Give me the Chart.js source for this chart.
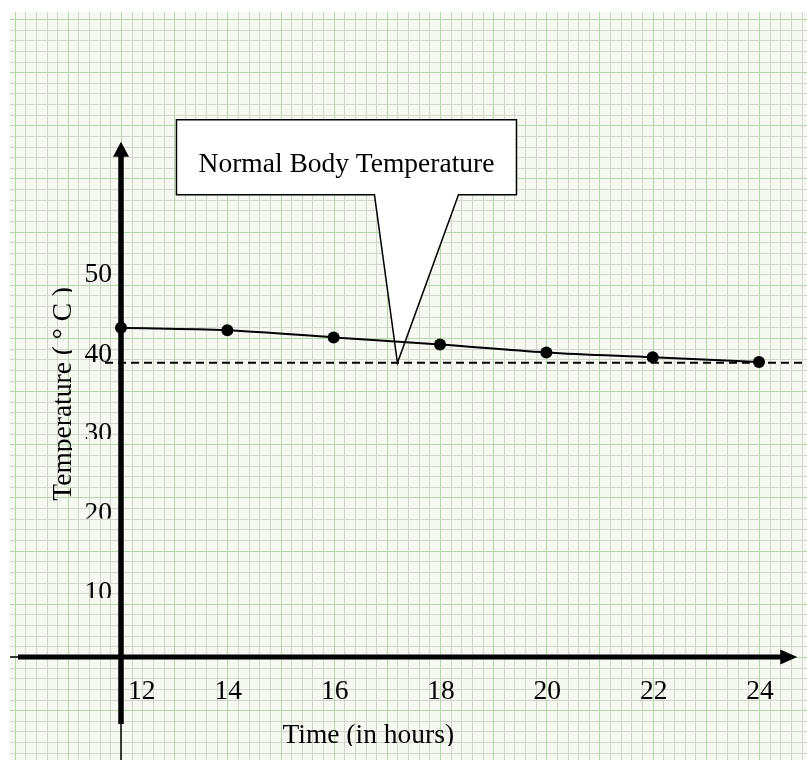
<!DOCTYPE html>
<html>
<head>
<meta charset="utf-8">
<script src="https://cdn.jsdelivr.net/npm/chart.js@4/dist/chart.umd.min.js"></script>
<style>
  body { margin: 0; background: #fff; }
  canvas { display: block; }
</style>
</head>
<body>
<canvas id="myChart" width="807" height="760"></canvas>
<script>
const hours = [12, 14, 16, 18, 20, 22, 24];
const temperatures = [41.4, 41.1, 40.2, 39.3, 38.3, 37.7, 37.1];
const tempTicks = [10, 20, 30, 40, 50];
const normalTemp = 37;
const calloutHour = 17.2;
const calloutText = "Normal Body Temperature";
const xTitle = "Time (in hours)";
const yTitle = "Temperature ( ° C )";

const serif = '"Liberation Serif", "Times New Roman", serif';
const font = '27.5px ' + serif;

// squared paper behind the whole chart
const paper = {
  id: 'paper',
  beforeDraw(chart) {
    const { ctx, width, height } = chart;
    const x = chart.scales.x, y = chart.scales.y;
    const x0 = x.getPixelForValue(12);
    const y0 = y.getPixelForValue(0);
    const step = x.getPixelForValue(12.2) - x0;
    const left = 10, top = 12;

    ctx.save();
    ctx.fillStyle = '#fff';
    ctx.fillRect(0, 0, width, height);
    ctx.fillStyle = '#f6f9f2';
    ctx.fillRect(left, top, width - left, height - top);

    const lines = (major) => {
      ctx.beginPath();
      let k0 = -Math.floor((x0 - left) / step);
      for (let k = k0; x0 + k * step <= width; k++) {
        if ((k % 5 === 0) !== major) continue;
        const px = Math.round(x0 + k * step) + 0.5;
        ctx.moveTo(px, top);
        ctx.lineTo(px, height);
      }
      k0 = -Math.floor((y0 - top) / step);
      for (let k = k0; y0 + k * step <= height; k++) {
        if ((k % 5 === 0) !== major) continue;
        const py = Math.round(y0 + k * step) + 0.5;
        ctx.moveTo(left, py);
        ctx.lineTo(width, py);
      }
      ctx.stroke();
    };
    ctx.lineWidth = 1;
    ctx.strokeStyle = '#cfd7ca';
    lines(false);
    ctx.strokeStyle = '#b6d8a9';
    lines(true);
    ctx.restore();
  }
};

// callout, normal temperature line, axes and their labels
const axes = {
  id: 'axes',
  beforeDatasetsDraw(chart) {
    const { ctx, width, height } = chart;
    const x = chart.scales.x, y = chart.scales.y;
    const ax = x.getPixelForValue(12);
    const ay = y.getPixelForValue(0);
    const ny = y.getPixelForValue(normalTemp);

    ctx.save();

    // speech box pointing at the dashed line
    const tx = x.getPixelForValue(calloutHour), ty = ny;
    ctx.beginPath();
    ctx.moveTo(tx - 221, ty - 243);
    ctx.lineTo(tx + 119, ty - 243);
    ctx.lineTo(tx + 119, ty - 168);
    ctx.lineTo(tx + 61, ty - 168);
    ctx.lineTo(tx, ty);
    ctx.lineTo(tx - 23, ty - 168);
    ctx.lineTo(tx - 221, ty - 168);
    ctx.closePath();
    ctx.fillStyle = '#fff';
    ctx.fill();
    ctx.lineWidth = 1.5;
    ctx.strokeStyle = '#000';
    ctx.lineJoin = 'miter';
    ctx.stroke();
    ctx.fillStyle = '#000';
    ctx.font = font;
    ctx.textAlign = 'center';
    ctx.textBaseline = 'alphabetic';
    ctx.fillText(calloutText, tx - 51, ty - 191);

    // normal temperature
    ctx.beginPath();
    ctx.setLineDash([8, 5]);
    ctx.lineWidth = 2;
    ctx.moveTo(ax - 16, ny);
    ctx.lineTo(width, ny);
    ctx.stroke();
    ctx.setLineDash([]);

    // x axis with arrow
    const xEnd = x.getPixelForValue(24.72);
    ctx.lineWidth = 1.5;
    ctx.beginPath();
    ctx.moveTo(10, ay);
    ctx.lineTo(20, ay);
    ctx.stroke();
    ctx.lineWidth = 5;
    ctx.beginPath();
    ctx.moveTo(18, ay);
    ctx.lineTo(xEnd - 15, ay);
    ctx.stroke();
    ctx.beginPath();
    ctx.moveTo(xEnd, ay);
    ctx.lineTo(xEnd - 17, ay - 7.5);
    ctx.lineTo(xEnd - 17, ay + 7.5);
    ctx.closePath();
    ctx.fill();

    // y axis with arrow
    const yEnd = y.getPixelForValue(64.8);
    ctx.lineWidth = 5.5;
    ctx.beginPath();
    ctx.moveTo(ax, yEnd + 12);
    ctx.lineTo(ax, ay + 67);
    ctx.stroke();
    ctx.lineWidth = 1.5;
    ctx.beginPath();
    ctx.moveTo(ax, ay + 60);
    ctx.lineTo(ax, height);
    ctx.stroke();
    ctx.beginPath();
    ctx.moveTo(ax, yEnd);
    ctx.lineTo(ax - 8, yEnd + 15);
    ctx.lineTo(ax + 8, yEnd + 15);
    ctx.closePath();
    ctx.fill();

    // hour labels
    ctx.font = font;
    hours.forEach((h, i) => {
      const px = x.getPixelForValue(h);
      if (i === 0) {
        ctx.textAlign = 'left';
        ctx.fillText(String(h), px + 7, ay + 42);
      } else {
        ctx.textAlign = 'center';
        ctx.fillText(String(h), px + 1, ay + 42);
      }
    });

    // temperature labels, the lower ones sit in clipped boxes
    ctx.textAlign = 'right';
    tempTicks.forEach((t) => {
      const base = y.getPixelForValue(t) + 23;
      ctx.save();
      if (t < 40) {
        ctx.beginPath();
        ctx.rect(0, base - 30, ax - 4, 27.5);
        ctx.clip();
      }
      ctx.fillText(String(t), ax - 9, base);
      ctx.restore();
    });

    // axis titles
    ctx.save();
    ctx.beginPath();
    ctx.rect(0, 0, width, ay + 89);
    ctx.clip();
    ctx.textAlign = 'center';
    ctx.fillText(xTitle, x.getPixelForValue(16.65), ay + 86);
    ctx.restore();

    ctx.save();
    ctx.beginPath();
    ctx.rect(0, 0, 72, height);
    ctx.clip();
    ctx.translate(71, y.getPixelForValue(33.1));
    ctx.rotate(-Math.PI / 2);
    ctx.textAlign = 'center';
    ctx.fillText(yTitle, 0, 0);
    ctx.restore();

    ctx.restore();
  }
};

const ctx = document.getElementById('myChart').getContext('2d');
const myChart = new Chart(ctx, {
  type: 'line',
  data: {
    datasets: [{
      label: 'Temperature',
      data: hours.map((h, i) => ({ x: h, y: temperatures[i] })),
      borderColor: '#000',
      backgroundColor: '#000',
      borderWidth: 2,
      pointRadius: 6,
      pointBackgroundColor: '#000',
      pointBorderWidth: 0,
      tension: 0.4,
      cubicInterpolationMode: 'monotone',
      clip: false
    }]
  },
  options: {
    responsive: false,
    devicePixelRatio: 1,
    animation: { duration: 0 },
    layout: { padding: 0, autoPadding: false },
    plugins: {
      legend: { display: false },
      tooltip: { enabled: false }
    },
    scales: {
      x: { type: 'linear', min: 9.724, max: 24.903, display: false },
      y: { type: 'linear', min: -12.96, max: 82.64, display: false }
    }
  },
  plugins: [paper, axes]
});
</script>
</body>
</html>
